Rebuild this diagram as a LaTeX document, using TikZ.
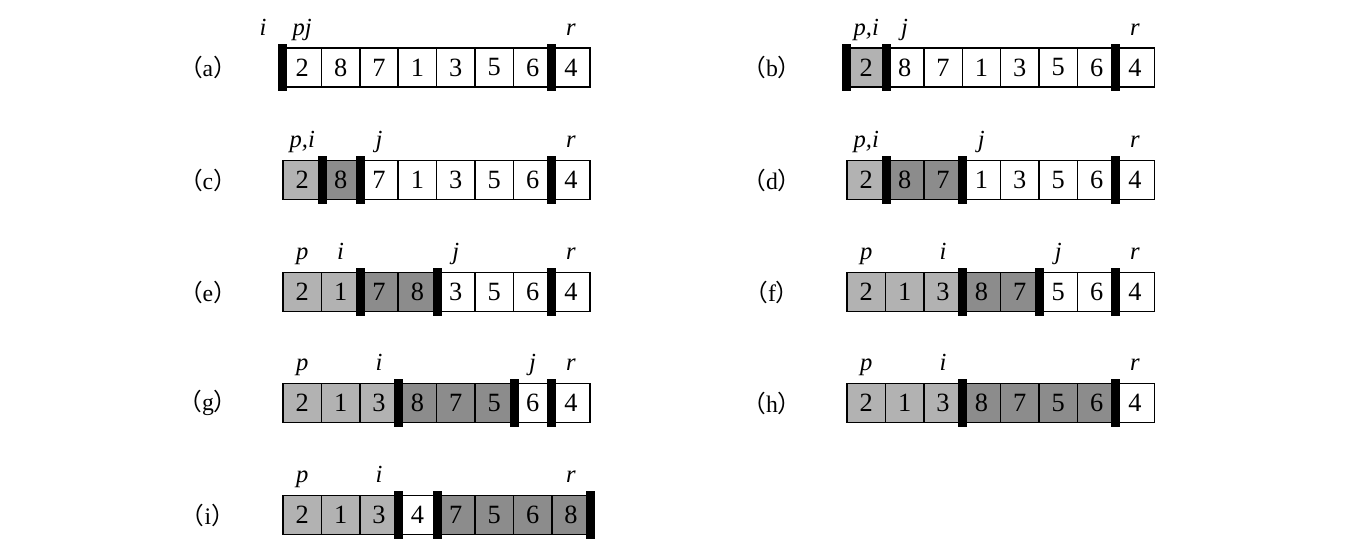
\documentclass[tikz,border=0pt]{standalone}
\usepackage{fontspec}
\setmainfont{Liberation Serif}
\newfontfamily\cjk{Noto Sans CJK SC}
\definecolor{lite}{gray}{0.70}
\definecolor{dark}{gray}{0.55}
\tikzset{
  cell/.style={draw, line width=0.8pt, minimum width=0.768cm, minimum height=0.78cm,
    inner sep=0pt, font=\fontsize{15}{16}\selectfont},
  wall/.style={fill=black, inner sep=0pt, minimum width=0.18cm, minimum height=0.95cm},
  tag/.style={anchor=base, inner sep=0pt, font=\fontsize{14}{16}\selectfont\itshape},
  rowlab/.style={inner sep=0pt, font=\fontsize{13.5}{16}\selectfont}
}
% one row of eight cells: name, left edge, centre line, value/fill list
\newcommand{\qrow}[4]{%
  \foreach \v/\f [count=\k] in {#4}
    \node[cell, fill=\f] (#1\k) at ({#2+38.4*(\k-0.5)}, #3) {\v};}
\begin{document}
\begin{tikzpicture}[x=0.02cm, y=-0.02cm]
\useasboundingbox (0,0) rectangle (1356,550);

% (a)
\node[rowlab] (a-lab) at (208,67.5) {{\cjk （}a{\cjk ）}};
\qrow{a}{283}{67.5}{2/white,8/white,7/white,1/white,3/white,5/white,6/white,4/white}
\node[wall] (a-w1) at (a1.west) {};
\node[wall] (a-w2) at (a8.west) {};
\node[tag] (a-i) at ([xshift=-0.384cm, yshift=0.24cm]a1.north west) {i};
\node[tag] (a-p) at ([yshift=0.24cm]a1.north) {pj};
\node[tag] (a-r) at ([yshift=0.24cm]a8.north) {r};

% (b)
\node[rowlab] (b-lab) at (772,67.5) {{\cjk （}b{\cjk ）}};
\qrow{b}{847}{67.5}{2/lite,8/white,7/white,1/white,3/white,5/white,6/white,4/white}
\node[wall] (b-w1) at (b1.west) {};
\node[wall] (b-w2) at (b1.east) {};
\node[wall] (b-w3) at (b8.west) {};
\node[tag] (b-p) at ([yshift=0.24cm]b1.north) {p,i};
\node[tag] (b-j) at ([yshift=0.24cm]b2.north) {j};
\node[tag] (b-r) at ([yshift=0.24cm]b8.north) {r};

% (c)
\node[rowlab] (c-lab) at (208,180) {{\cjk （}c{\cjk ）}};
\qrow{c}{283}{180}{2/lite,8/dark,7/white,1/white,3/white,5/white,6/white,4/white}
\node[wall] (c-w1) at (c1.east) {};
\node[wall] (c-w2) at (c2.east) {};
\node[wall] (c-w3) at (c8.west) {};
\node[tag] (c-p) at ([yshift=0.24cm]c1.north) {p,i};
\node[tag] (c-j) at ([yshift=0.24cm]c3.north) {j};
\node[tag] (c-r) at ([yshift=0.24cm]c8.north) {r};

% (d)
\node[rowlab] (d-lab) at (772,180) {{\cjk （}d{\cjk ）}};
\qrow{d}{847}{180}{2/lite,8/dark,7/dark,1/white,3/white,5/white,6/white,4/white}
\node[wall] (d-w1) at (d1.east) {};
\node[wall] (d-w2) at (d3.east) {};
\node[wall] (d-w3) at (d8.west) {};
\node[tag] (d-p) at ([yshift=0.24cm]d1.north) {p,i};
\node[tag] (d-j) at ([yshift=0.24cm]d4.north) {j};
\node[tag] (d-r) at ([yshift=0.24cm]d8.north) {r};

% (e)
\node[rowlab] (e-lab) at (208,292) {{\cjk （}e{\cjk ）}};
\qrow{e}{283}{292}{2/lite,1/lite,7/dark,8/dark,3/white,5/white,6/white,4/white}
\node[wall] (e-w1) at (e2.east) {};
\node[wall] (e-w2) at (e4.east) {};
\node[wall] (e-w3) at (e8.west) {};
\node[tag] (e-p) at ([yshift=0.24cm]e1.north) {p};
\node[tag] (e-i) at ([yshift=0.24cm]e2.north) {i};
\node[tag] (e-j) at ([yshift=0.24cm]e5.north) {j};
\node[tag] (e-r) at ([yshift=0.24cm]e8.north) {r};

% (f)
\node[rowlab] (f-lab) at (772,292) {{\cjk （}f{\cjk ）}};
\qrow{f}{847}{292}{2/lite,1/lite,3/lite,8/dark,7/dark,5/white,6/white,4/white}
\node[wall] (f-w1) at (f3.east) {};
\node[wall] (f-w2) at (f5.east) {};
\node[wall] (f-w3) at (f8.west) {};
\node[tag] (f-p) at ([yshift=0.24cm]f1.north) {p};
\node[tag] (f-i) at ([yshift=0.24cm]f3.north) {i};
\node[tag] (f-j) at ([yshift=0.24cm]f6.north) {j};
\node[tag] (f-r) at ([yshift=0.24cm]f8.north) {r};

% (g)
\node[rowlab] (g-lab) at (208,403) {{\cjk （}g{\cjk ）}};
\qrow{g}{283}{403}{2/lite,1/lite,3/lite,8/dark,7/dark,5/dark,6/white,4/white}
\node[wall] (g-w1) at (g3.east) {};
\node[wall] (g-w2) at (g6.east) {};
\node[wall] (g-w3) at (g8.west) {};
\node[tag] (g-p) at ([yshift=0.24cm]g1.north) {p};
\node[tag] (g-i) at ([yshift=0.24cm]g3.north) {i};
\node[tag] (g-j) at ([yshift=0.24cm]g7.north) {j};
\node[tag] (g-r) at ([yshift=0.24cm]g8.north) {r};

% (h)
\node[rowlab] (h-lab) at (772,403) {{\cjk （}h{\cjk ）}};
\qrow{h}{847}{403}{2/lite,1/lite,3/lite,8/dark,7/dark,5/dark,6/dark,4/white}
\node[wall] (h-w1) at (h3.east) {};
\node[wall] (h-w2) at (h8.west) {};
\node[tag] (h-p) at ([yshift=0.24cm]h1.north) {p};
\node[tag] (h-i) at ([yshift=0.24cm]h3.north) {i};
\node[tag] (h-r) at ([yshift=0.24cm]h8.north) {r};

% (i)
\node[rowlab] (i-lab) at (208,515) {{\cjk （}i{\cjk ）}};
\qrow{i}{283}{515}{2/lite,1/lite,3/lite,4/white,7/dark,5/dark,6/dark,8/dark}
\node[wall] (i-w1) at (i3.east) {};
\node[wall] (i-w2) at (i4.east) {};
\node[wall] (i-w3) at (i8.east) {};
\node[tag] (i-p) at ([yshift=0.24cm]i1.north) {p};
\node[tag] (i-i) at ([yshift=0.24cm]i3.north) {i};
\node[tag] (i-r) at ([yshift=0.24cm]i8.north) {r};
\end{tikzpicture}
\end{document}
